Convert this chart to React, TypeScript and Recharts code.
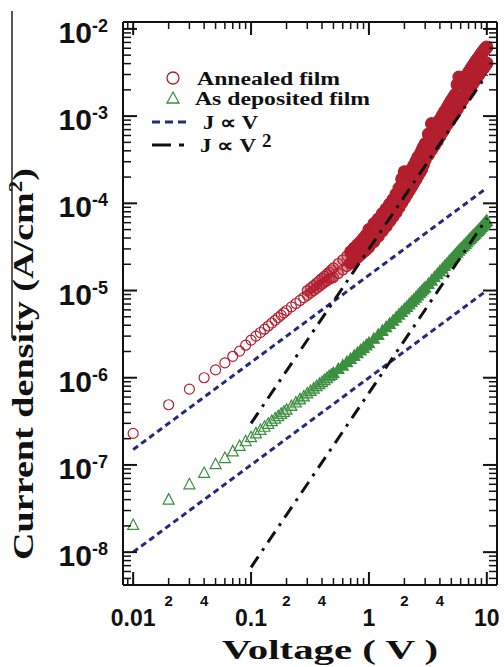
import { ScatterChart, Scatter, XAxis, YAxis, Label } from 'recharts'

// voltage grid shared by both films (V)
const voltage = [
  0.01, 0.02, 0.03, 0.04, 0.05, 0.06, 0.07, 0.08, 0.09, 0.1,
  0.11, 0.12, 0.13, 0.14, 0.15, 0.16, 0.17, 0.18, 0.19, 0.2,
  0.22, 0.24, 0.26, 0.28, 0.3, 0.32, 0.34, 0.36, 0.38, 0.4,
  0.42, 0.44, 0.46, 0.48, 0.5, 0.55, 0.6, 0.65, 0.7, 0.75,
  0.8, 0.85, 0.9, 0.95, 1.0, 1.1, 1.2, 1.3, 1.4, 1.5,
  1.6, 1.7, 1.8, 1.9, 2.0, 2.1, 2.2, 2.3, 2.4, 2.5,
  2.6, 2.7, 2.8, 2.9, 3.0, 3.2, 3.4, 3.6, 3.8, 4.0,
  4.2, 4.4, 4.6, 4.8, 5.0, 5.2, 5.4, 5.6, 5.8, 6.0,
  6.2, 6.4, 6.6, 6.8, 7.0, 7.2, 7.4, 7.6, 7.8, 8.0,
  8.2, 8.4, 8.6, 8.8, 9.0, 9.2, 9.4, 9.6, 9.8, 10.0,
]

// annealed film, current density (A/cm2)
const annealed = [
  2.3e-7, 4.9e-7, 7.4e-7, 1.0e-6, 1.23e-6, 1.48e-6, 1.76e-6, 2.02e-6, 2.36e-6, 2.7e-6,
  3.0e-6, 3.3e-6, 3.6e-6, 3.92e-6, 4.24e-6, 4.56e-6, 4.9e-6, 5.22e-6, 5.55e-6, 5.9e-6,
  6.5e-6, 7.1e-6, 7.7e-6, 8.3e-6, 8.8e-6, 9.4e-6, 1.0e-5, 1.06e-5, 1.12e-5, 1.18e-5,
  1.24e-5, 1.29e-5, 1.35e-5, 1.38e-5, 1.41e-5, 1.57e-5, 1.72e-5, 1.89e-5, 2.06e-5, 2.24e-5,
  2.42e-5, 2.6e-5, 2.79e-5, 2.97e-5, 3.17e-5, 3.65e-5, 4.22e-5, 4.84e-5, 5.5e-5, 6.25e-5,
  7.04e-5, 7.92e-5, 9.06e-5, 1.02e-4, 1.14e-4, 1.28e-4, 1.41e-4, 1.56e-4, 1.72e-4, 1.89e-4,
  2.08e-4, 2.27e-4, 2.47e-4, 2.8e-4, 3.17e-4, 3.61e-4, 4.14e-4, 4.66e-4, 5.19e-4, 5.9e-4,
  6.6e-4, 7.39e-4, 8.1e-4, 8.8e-4, 9.68e-4, 1.05e-3, 1.13e-3, 1.21e-3, 1.32e-3, 1.43e-3,
  1.53e-3, 1.64e-3, 1.75e-3, 1.88e-3, 2.02e-3, 2.14e-3, 2.26e-3, 2.38e-3, 2.51e-3, 2.64e-3,
  2.77e-3, 2.9e-3, 3.04e-3, 3.19e-3, 3.34e-3, 3.48e-3, 3.61e-3, 3.76e-3, 3.9e-3, 4.05e-3,
]

// annealed film, repeat sweep (scatter above the main sweep)
const annealedRepeat = [
  null, null, null, null, null, null, null, null, null, null,
  null, null, null, null, null, null, null, null, null, null,
  null, null, null, null, 1.0e-5, 1.07e-5, 1.14e-5, 1.22e-5, 1.3e-5, 1.38e-5,
  1.46e-5, 1.54e-5, 1.63e-5, 1.72e-5, 1.82e-5, 2.04e-5, 2.25e-5, 2.5e-5, 2.78e-5, 3.05e-5,
  3.33e-5, 3.62e-5, 3.95e-5, 4.3e-5, 5.0e-5, 5.8e-5, 6.6e-5, 7.6e-5, 8.6e-5, 9.8e-5,
  1.1e-4, 1.27e-4, 1.49e-4, 1.9e-4, 2.3e-4, 2.15e-4, 2.2e-4, 2.45e-4, 2.7e-4, 3.0e-4,
  3.35e-4, 3.6e-4, 4.0e-4, 4.4e-4, 4.8e-4, 6.2e-4, 8.2e-4, 7.8e-4, 8.2e-4, 9.1e-4,
  1.02e-3, 1.13e-3, 1.24e-3, 1.37e-3, 1.5e-3, 1.63e-3, 1.76e-3, 2.3e-3, 2.8e-3, 2.7e-3,
  2.4e-3, 2.57e-3, 2.75e-3, 2.95e-3, 3.15e-3, 3.35e-3, 3.55e-3, 3.75e-3, 3.95e-3, 4.15e-3,
  4.35e-3, 4.55e-3, 4.75e-3, 4.95e-3, 5.2e-3, 5.4e-3, 5.6e-3, 5.8e-3, 6.0e-3, 6.2e-3,
]

// as deposited film (A/cm2)
const asDeposited = [
  2.05e-8, 4.0e-8, 6.0e-8, 8.1e-8, 1.02e-7, 1.2e-7, 1.43e-7, 1.65e-7, 1.87e-7, 2.08e-7,
  2.3e-7, 2.52e-7, 2.74e-7, 2.96e-7, 3.18e-7, 3.4e-7, 3.62e-7, 3.85e-7, 4.07e-7, 4.3e-7,
  4.75e-7, 5.2e-7, 5.65e-7, 6.1e-7, 6.6e-7, 7.05e-7, 7.5e-7, 8.0e-7, 8.45e-7, 8.9e-7,
  9.4e-7, 9.9e-7, 1.04e-6, 1.08e-6, 1.13e-6, 1.26e-6, 1.38e-6, 1.51e-6, 1.64e-6, 1.78e-6,
  1.92e-6, 2.06e-6, 2.2e-6, 2.35e-6, 2.5e-6, 2.8e-6, 3.1e-6, 3.45e-6, 3.8e-6, 4.15e-6,
  4.5e-6, 4.9e-6, 5.3e-6, 5.7e-6, 6.1e-6, 6.5e-6, 6.95e-6, 7.4e-6, 7.85e-6, 8.3e-6,
  8.8e-6, 9.3e-6, 9.8e-6, 1.03e-5, 1.08e-5, 1.19e-5, 1.3e-5, 1.42e-5, 1.54e-5, 1.66e-5,
  1.78e-5, 1.91e-5, 2.04e-5, 2.17e-5, 2.3e-5, 2.44e-5, 2.58e-5, 2.72e-5, 2.87e-5, 3.0e-5,
  3.14e-5, 3.28e-5, 3.43e-5, 3.58e-5, 3.75e-5, 3.9e-5, 4.05e-5, 4.2e-5, 4.35e-5, 4.5e-5,
  4.66e-5, 4.82e-5, 4.99e-5, 5.17e-5, 5.35e-5, 5.53e-5, 5.72e-5, 5.91e-5, 6.1e-5, 6.3e-5,
]

// guide lines J ~ V and J ~ V^2 (end points)
const ohmicV = [0.01, 10]
const ohmicUpper = [1.5e-7, 1.5e-4]
const ohmicLower = [1e-8, 1e-5]
const sclcV = [0.1, 10]
const sclcUpper = [3e-7, 3e-3]
const sclcLower = [6.7e-9, 6.7e-5]

// axis ticks and labels
const xMajor = [0.01, 0.1, 1, 10]
const xMajorLabels = ['0.01', '0.1', '1', '10']
const xMinorLabelled = [0.02, 0.04, 0.2, 0.4, 2, 4]
const xMinorLabels = ['2', '4', '2', '4', '2', '4']
const yMajor = [1e-8, 1e-7, 1e-6, 1e-5, 1e-4, 1e-3, 1e-2]
const yMajorExp = ['-8', '-7', '-6', '-5', '-4', '-3', '-2']

const X_DOMAIN = [0.0082, 12.2]
const Y_DOMAIN = [4.2e-9, 1.2e-2]

const RED = '#b31f2e'
const GREEN = '#3d8f40'
const NAVY = '#242a7c'
const SANS = '"Liberation Sans", Arial, sans-serif'
const SERIF = '"Liberation Serif", "Times New Roman", serif'

const decadeTicks = (from: number, to: number, lo: number, hi: number) => {
  const out: number[] = []
  for (let d = from; d <= to; d++) {
    for (let m = 1; m <= 9; m++) {
      const v = m * Math.pow(10, d)
      if (v >= lo && v <= hi) out.push(v)
    }
  }
  return out
}
const xTicks = decadeTicks(-3, 1, X_DOMAIN[0], X_DOMAIN[1])
const yTicks = decadeTicks(-9, -2, Y_DOMAIN[0], Y_DOMAIN[1])

const near = (a: number, b: number) => Math.abs(a - b) / b < 1e-6
const isMajor = (v: number) => Math.abs(Math.log10(v) - Math.round(Math.log10(v))) < 1e-6

const toPoints = (xs: number[], ys: (number | null)[]) =>
  xs.map((v, i) => ({ v, j: ys[i] })).filter((p) => p.j != null)

const annealedData = toPoints(voltage, annealed)
const annealedRepeatData = toPoints(voltage, annealedRepeat)
const asDepositedData = toPoints(voltage, asDeposited)

function BottomTick(props: any) {
  const { x, y, payload } = props
  const v = payload.value
  const major = isMajor(v)
  const mi = xMajor.findIndex((t) => near(v, t))
  const li = xMinorLabelled.findIndex((t) => near(v, t))
  return (
    <g>
      <line x1={x} x2={x} y1={y} y2={y - (major ? 13 : 7)} stroke="#111" strokeWidth={major ? 2 : 1.5} />
      {mi >= 0 && (
        <text x={x} y={y + 41} textAnchor="middle" fontFamily={SANS} fontWeight="bold" fontSize={23} fill="#111">
          {xMajorLabels[mi]}
        </text>
      )}
      {li >= 0 && (
        <text x={x} y={y + 21} textAnchor="middle" fontFamily={SANS} fontWeight="bold" fontSize={15} fill="#111">
          {xMinorLabels[li]}
        </text>
      )}
    </g>
  )
}

function TopTick(props: any) {
  const { x, y, payload } = props
  const major = isMajor(payload.value)
  return <line x1={x} x2={x} y1={y} y2={y + (major ? 13 : 7)} stroke="#111" strokeWidth={major ? 2 : 1.5} />
}

function LeftTick(props: any) {
  const { x, y, payload } = props
  const v = payload.value
  const major = isMajor(v)
  const mi = yMajor.findIndex((t) => near(v, t))
  return (
    <g>
      <line x1={x} x2={x + (major ? 14 : 8)} y1={y} y2={y} stroke="#111" strokeWidth={major ? 2 : 1.5} />
      {mi >= 0 && (
        <text x={x - 15} y={y + 14} textAnchor="end" fontFamily={SANS} fontWeight="bold" fontSize={30} fill="#111">
          10
          <tspan dy={-11} fontSize={18}>{yMajorExp[mi]}</tspan>
        </text>
      )}
    </g>
  )
}

function RightTick(props: any) {
  const { x, y, payload } = props
  const major = isMajor(payload.value)
  return <line x1={x} x2={x - (major ? 14 : 8)} y1={y} y2={y} stroke="#111" strokeWidth={major ? 2 : 1.5} />
}

// dense part of the sweep merges into a solid band, as in the figure
const circleShape = (p: any) => {
  const v = p.payload?.v ?? 0
  const fillOpacity = v >= 0.7 ? 1 : v >= 0.3 ? 0.3 : 0
  const r = v >= 0.7 ? 6 : 5
  return <circle cx={p.cx} cy={p.cy} r={r} fill={RED} fillOpacity={fillOpacity} stroke={RED} strokeWidth={1.2} />
}
const triangleShape = (p: any) => {
  const v = p.payload?.v ?? 0
  const fillOpacity = v >= 0.5 ? 1 : v >= 0.2 ? 0.3 : 0
  return (
    <path
      d={`M${p.cx},${p.cy - 6}L${p.cx + 5.5},${p.cy + 4.5}L${p.cx - 5.5},${p.cy + 4.5}Z`}
      fill={GREEN}
      fillOpacity={fillOpacity}
      stroke={GREEN}
      strokeWidth={1.2}
    />
  )
}
const noShape = () => <g />

function Legend() {
  return (
    <svg width={504} height={667} style={{ position: 'absolute', left: 0, top: 0, pointerEvents: 'none' }}>
      <line x1={12} x2={12} y1={11} y2={338} stroke="#222" strokeWidth={1.5} />
      <circle cx={173} cy={78} r={6} fill="none" stroke={RED} strokeWidth={1.3} />
      <text x={197} y={85} fontFamily={SERIF} fontWeight="bold" fontSize={18} textLength={143} lengthAdjust="spacingAndGlyphs" fill="#111">
        Annealed film
      </text>
      <path d="M173,92L179,103L167,103Z" fill="none" stroke={GREEN} strokeWidth={1.3} />
      <text x={195} y={105} fontFamily={SERIF} fontWeight="bold" fontSize={18} textLength={175} lengthAdjust="spacingAndGlyphs" fill="#111">
        As deposited film
      </text>
      <line x1={152} x2={191} y1={122} y2={122} stroke={NAVY} strokeWidth={3} strokeDasharray="8 5" />
      <text x={203} y={129} fontFamily={SERIF} fontWeight="bold" fontSize={19} textLength={55} lengthAdjust="spacingAndGlyphs" fill="#111">
        J ∝ V
      </text>
      <line x1={152} x2={186} y1={145} y2={145} stroke="#111" strokeWidth={3} strokeDasharray="19 8 5 20" />
      <text x={200} y={152} fontFamily={SERIF} fontWeight="bold" fontSize={19} fill="#111">
        <tspan textLength={56} lengthAdjust="spacingAndGlyphs">J ∝ V</tspan>
        <tspan x={262} dy={-5}>2</tspan>
      </text>
    </svg>
  )
}

export default function App() {
  return (
    <div style={{ position: 'absolute', left: 0, top: 0, width: 504, height: 667, background: '#fff' }}>
      <ScatterChart width={504} height={667} margin={{ top: 21, right: 6, bottom: 81, left: 122 }}>
        <XAxis
          dataKey="v"
          type="number"
          scale="log"
          domain={X_DOMAIN}
          allowDataOverflow
          ticks={xTicks}
          interval={0}
          height={1}
          tickSize={0}
          tickMargin={0}
          tickLine={false}
          axisLine={{ stroke: '#111', strokeWidth: 2 }}
          tick={<BottomTick />}
        >
          <Label
            content={() => (
              <text x={330} y={659} textAnchor="middle" fontFamily={SERIF} fontWeight="bold" fontSize={27} textLength={216} lengthAdjust="spacingAndGlyphs" fill="#111">
                Voltage ( V )
              </text>
            )}
          />
        </XAxis>
        <XAxis
          xAxisId="top"
          orientation="top"
          dataKey="v"
          type="number"
          scale="log"
          domain={X_DOMAIN}
          allowDataOverflow
          ticks={xTicks}
          interval={0}
          height={1}
          tickSize={0}
          tickMargin={0}
          tickLine={false}
          axisLine={{ stroke: '#111', strokeWidth: 2 }}
          tick={<TopTick />}
        />
        <YAxis
          dataKey="j"
          type="number"
          scale="log"
          domain={Y_DOMAIN}
          allowDataOverflow
          ticks={yTicks}
          interval={0}
          width={1}
          tickSize={0}
          tickMargin={0}
          tickLine={false}
          axisLine={{ stroke: '#111', strokeWidth: 2 }}
          tick={<LeftTick />}
        >
          <Label
            content={() => (
              <text x={33} y={364} transform="rotate(-90 33 364)" textAnchor="middle" fontFamily={SERIF} fontWeight="bold" fontSize={30} textLength={392} lengthAdjust="spacingAndGlyphs" fill="#111">
                Current density (A/cm<tspan dy={-11} fontSize={18}>2</tspan><tspan dy={11}>)</tspan>
              </text>
            )}
          />
        </YAxis>
        <YAxis
          yAxisId="right"
          orientation="right"
          dataKey="j"
          type="number"
          scale="log"
          domain={Y_DOMAIN}
          allowDataOverflow
          ticks={yTicks}
          interval={0}
          width={1}
          tickSize={0}
          tickMargin={0}
          tickLine={false}
          axisLine={{ stroke: '#111', strokeWidth: 2 }}
          tick={<RightTick />}
        />

        <Scatter name="Annealed film" data={annealedData} shape={circleShape} isAnimationActive={false} />
        <Scatter name="Annealed film (repeat)" data={annealedRepeatData} shape={circleShape} isAnimationActive={false} />
        <Scatter name="As deposited film" data={asDepositedData} shape={triangleShape} isAnimationActive={false} />

        <Scatter
          name="J ~ V (annealed)"
          data={toPoints(ohmicV, ohmicUpper)}
          shape={noShape}
          line={{ stroke: NAVY, strokeWidth: 3, strokeDasharray: '6 4' }}
          lineType="joint"
          isAnimationActive={false}
        />
        <Scatter
          name="J ~ V (as deposited)"
          data={toPoints(ohmicV, ohmicLower)}
          shape={noShape}
          line={{ stroke: NAVY, strokeWidth: 3, strokeDasharray: '6 4' }}
          lineType="joint"
          isAnimationActive={false}
        />
        <Scatter
          name="J ~ V^2 (annealed)"
          data={toPoints(sclcV, sclcUpper)}
          shape={noShape}
          line={{ stroke: '#111', strokeWidth: 3, strokeDasharray: '13 7 3 7' }}
          lineType="joint"
          isAnimationActive={false}
        />
        <Scatter
          name="J ~ V^2 (as deposited)"
          data={toPoints(sclcV, sclcLower)}
          shape={noShape}
          line={{ stroke: '#111', strokeWidth: 3, strokeDasharray: '13 7 3 7' }}
          lineType="joint"
          isAnimationActive={false}
        />
      </ScatterChart>
      <Legend />
    </div>
  )
}
